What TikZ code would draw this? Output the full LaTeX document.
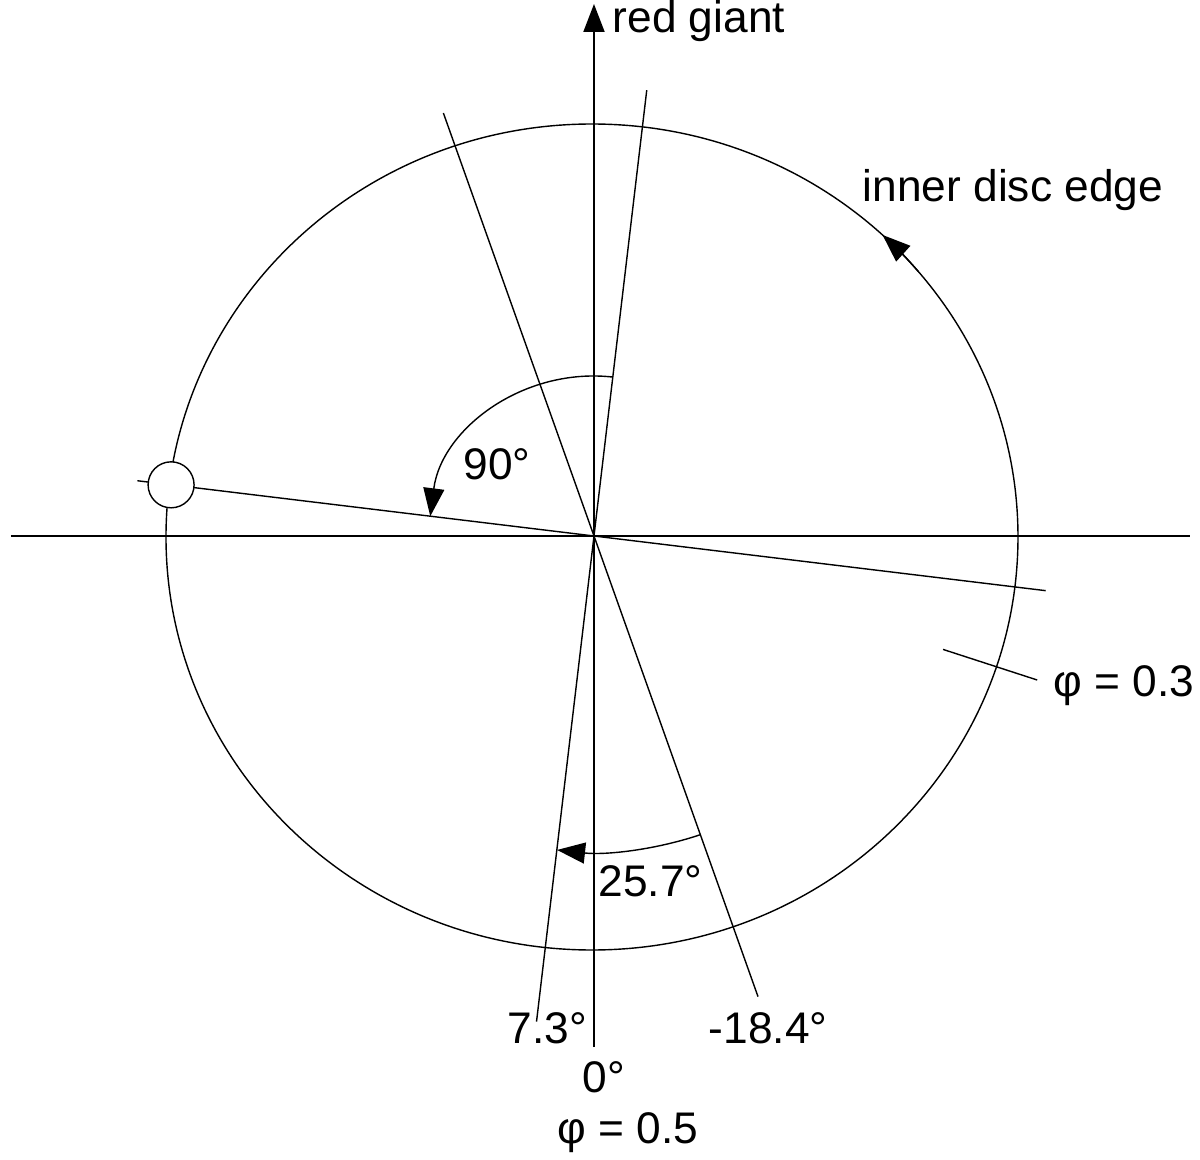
\documentclass[tikz,border=0pt]{standalone}
\usepackage{fontspec}
\setmainfont{Liberation Sans}
\usetikzlibrary{arrows.meta, positioning, calc}

\begin{document}
\begin{tikzpicture}[
        every node/.style={font=\fontsize{12.6}{14}\selectfont, inner sep=0pt},
        axisline/.style={line width=0.55pt},
        thinline/.style={line width=0.4pt},
        tipmark/.style={-{Triangle[length=2.8mm,width=2.1mm]}}
    ]
        \useasboundingbox (-5.94,-6.24) rectangle (6.06,5.36);
        \coordinate (O) at (0,0);
        \coordinate (C) at (-0.02,-0.01);

        % axes
        \draw[axisline] (-5.83,0) coordinate (west) -- (5.96,0) coordinate (east);
        \draw[axisline,tipmark] (0,-5.11) coordinate (south) -- (0,5.32) coordinate (north);
        \node[anchor=base west] (giant) at (0.18,5.03) {red giant};

        % inner disc edge
        \draw[thinline] (C) ellipse [x radius=4.26, y radius=4.13];
        \draw[thinline,tipmark] (C) ++(40:4.26 and 4.13)
            arc[start angle=40, end angle=47, x radius=4.26, y radius=4.13];
        \node[anchor=base west] (edge) at (2.68,3.34) {inner disc edge};

        % lines through the centre
        \draw[thinline] (83.25:4.49) coordinate (atop) -- (263.25:4.89) coordinate (abot);
        \draw[thinline] (109.6:4.49) coordinate (btop) -- (-70.4:4.89) coordinate (bbot);
        \draw[thinline] (173.1:4.6) coordinate (cleft) -- (-6.9:4.55) coordinate (cright);
        \node[circle, draw, thinline, fill=white, minimum size=4.6mm] (spot) at (173.1:4.26) {};

        % phase tick
        \draw[thinline] (-18:3.67) coordinate (tin) -- (-18:4.66) coordinate (tout);
        \node[anchor=base west] (phiA) at (4.59,-1.61) {φ = 0.3};

        % angle arcs
        \draw[thinline,tipmark] (O) ++(83.5:1.65 and 1.60)
            arc[start angle=83.5, end angle=172.9, x radius=1.65, y radius=1.60];
        \node[anchor=base west] (ninety) at (-1.31,0.56) {90°};
        \draw[thinline,tipmark] (O) ++(-71:3.26 and 3.16)
            arc[start angle=-71, end angle=-96.5, x radius=3.26, y radius=3.16];
        \node[anchor=base west] (diff) at (0.04,-3.60) {25.7°};

        % labels at the bottom
        \node[anchor=base west] (alab) at (-0.87,-5.07) {7.3°};
        \node[anchor=base west] (blab) at (1.14,-5.07) {-18.4°};
        \node[anchor=base west] (zero) at (-0.12,-5.56) {0°};
        \node[anchor=base west] (phiB) at (-0.37,-6.07) {φ = 0.5};
    \end{tikzpicture}
\end{document}
